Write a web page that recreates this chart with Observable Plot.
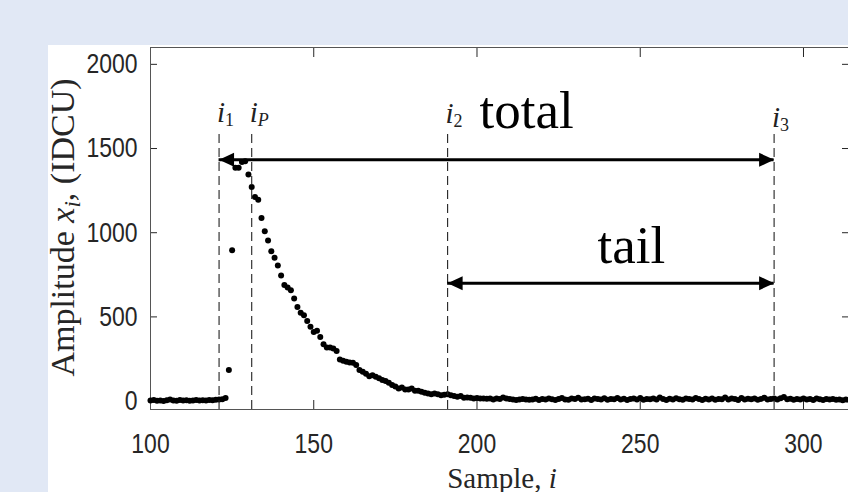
<!DOCTYPE html>
<html><head><meta charset="utf-8">
<script src="https://cdn.jsdelivr.net/npm/d3@7"></script>
<script src="https://cdn.jsdelivr.net/npm/@observablehq/plot@0.6"></script>
<style>
html,body{margin:0;padding:0;width:848px;height:492px;overflow:hidden;background:#e1e8f5;}
#panel{position:absolute;left:48px;top:45px;width:800px;height:447px;background:#fff;overflow:hidden;}
#panel svg{display:block;max-width:none;}
</style></head><body><div id="panel"></div>
<script>
// ---- data ----
const firstSample = 100;
const amplitude = [
  3, 6, 2, 4, 1, 5, 9, 4, 2, 6, 3, 5, 2, 4, 6, 3, 5, 4, 7, 5, 8, 9, 11, 18,
  184, 896, 1386, 1386, 1420, 1425, 1345, 1271, 1212, 1196, 1087, 1008, 953, 890, 852, 805,
  746, 690, 674, 658, 609, 559, 524, 510, 476, 441, 411, 417, 381, 338, 318, 318, 313, 298,
  247, 239, 233, 229, 227, 214, 184, 174, 162, 148,
  154, 144, 135, 125, 120, 109, 95, 86, 75, 81,
  69, 69, 75, 61, 61, 55, 50, 45, 40, 45,
  40, 35, 38, 40, 35, 30, 25, 30, 20, 22,
  20, 15, 18, 15, 15, 14, 15, 10, 15, 12,
  22, 15, 12, 10, 6, 9, 12, 10, 8,
  10, 14, 7, 12, 9, 16, 11, 6, 13, 18,
  10, 8, 15, 12, 20, 9, 11, 14, 7, 16,
  12, 10, 17, 8, 13, 11, 19, 9, 14, 6,
  12, 15, 10, 18, 8, 13, 11, 16, 9, 21,
  12, 7, 14, 10, 17, 11, 8, 15, 13, 9,
  19, 12, 6, 14, 10, 16, 8, 13, 11, 22,
  9, 15, 12, 7, 18, 10, 14, 11, 16, 8,
  13, 20, 9, 12, 15, 10, 17, 24, 11, 14,
  8, 13, 10, 16, 9, 12, 7, 15, 11, 6,
  13, 9, 12, 8, 10, 5, 9, 7
];
const xTicks = [100, 150, 200, 250, 300];
const yTicks = [0, 500, 1000, 1500, 2000];
const xDomain = [100, 314.4];
const yDomain = [-50, 2100];

const markerSub = ["1", "P", "2", "3"];
const markerSample = [121, 131, 191, 291];
const markerLabelLevel = [1655, 1655, 1650, 1625];
const markerTop = 1600;

const spanName = ["total", "tail"];
const spanFrom = [121, 191];
const spanTo = [291, 291];
const spanLevel = [1433, 700];
const spanLabelSample = [200.8, 236.9];
const spanLabelLevel = [1619, 818];

// ---- tables ----
const points = amplitude.map((v, k) => ({i: firstSample + k, v}));
const markers = markerSample.map((s, k) => ({s, sub: markerSub[k], lv: markerLabelLevel[k]}));
const spans = spanName.map((n, k) => ({n, a: spanFrom[k], b: spanTo[k], lv: spanLevel[k], lx: spanLabelSample[k], ly: spanLabelLevel[k]}));
const heads = spans.flatMap(d => [{x: d.a, y: d.lv, dir: 180}, {x: d.b, y: d.lv, dir: 0}]);

const arrowHead = {draw(ctx) { ctx.moveTo(0, 0); ctx.lineTo(-15, -7); ctx.lineTo(-15, 7); ctx.closePath(); }};
const tickFont = "'Liberation Sans', Arial, sans-serif";
const serif = "'Liberation Serif', serif";
const plain = d => String(d);

const plot = Plot.plot({
  width: 804, height: 447,
  marginLeft: 102, marginRight: 2, marginTop: 2, marginBottom: 83,
  x: {domain: xDomain},
  y: {domain: yDomain},
  style: {background: "white", fontFamily: tickFont, overflow: "visible"},
  marks: [
    Plot.axisX(xTicks, {anchor: "bottom", tickSize: -9, tickPadding: 33, tickFormat: plain, fontSize: 28, fontFamily: tickFont, color: "#262626", label: null}),
    Plot.axisX(xTicks, {anchor: "top", tickSize: -9, tickFormat: () => "", color: "#262626", label: null}),
    Plot.axisY(yTicks, {anchor: "left", tickSize: -7, tickPadding: 20, tickFormat: plain, fontSize: 28, fontFamily: tickFont, color: "#262626", label: null}),
    Plot.axisY(yTicks, {anchor: "right", tickSize: -9, tickFormat: () => "", color: "#262626", label: null}),
    Plot.frame({stroke: "#555", strokeWidth: 1}),
    Plot.dot(points, {x: "i", y: "v", r: 3, fill: "black", stroke: null}),
    Plot.ruleX(markers, {x: "s", y1: yDomain[0], y2: markerTop, stroke: "#222", strokeWidth: 1.1, strokeDasharray: "9,5"}),
    Plot.ruleY(spans, {y: "lv", x1: "a", x2: "b", stroke: "black", strokeWidth: 3}),
    Plot.dot(heads, {x: "x", y: "y", rotate: "dir", symbol: arrowHead, fill: "black", stroke: null}),
    Plot.text(markers, {x: "s", y: "lv", text: () => "i", textAnchor: "start", lineAnchor: "bottom", dx: -2, fontSize: 29, fontStyle: "italic", fontFamily: serif, fill: "#222"}),
    Plot.text(markers.filter(d => d.sub !== "P"), {x: "s", y: "lv", text: "sub", textAnchor: "start", lineAnchor: "bottom", dx: 6, dy: 4, fontSize: 18, fontFamily: serif, fill: "#222"}),
    Plot.text(markers.filter(d => d.sub === "P"), {x: "s", y: "lv", text: "sub", textAnchor: "start", lineAnchor: "bottom", dx: 6, dy: 4, fontSize: 18, fontStyle: "italic", fontFamily: serif, fill: "#222"}),
    Plot.text(spans, {x: "lx", y: "ly", text: "n", textAnchor: "start", lineAnchor: "bottom", fontSize: 53, fontFamily: serif, fill: "black"})
  ]
});

const svg = d3.select(plot);
const xl = svg.append("text").attr("x", 454).attr("y", 443).attr("text-anchor", "middle")
  .attr("font-family", serif).attr("font-size", 29).attr("fill", "#262626");
xl.append("tspan").text("Sample, ");
xl.append("tspan").attr("font-style", "italic").text("i");

const yl = svg.append("text").attr("transform", "translate(26,182.5) rotate(-90)").attr("text-anchor", "middle")
  .attr("font-family", serif).attr("font-size", 34).attr("fill", "#262626");
yl.append("tspan").text("Amplitude ");
yl.append("tspan").attr("font-style", "italic").text("x");
yl.append("tspan").attr("font-style", "italic").attr("font-size", 23).attr("dy", 6).text("i");
yl.append("tspan").attr("dy", -6).text(", (IDCU)");

document.getElementById("panel").appendChild(plot);

// condense the tick labels horizontally, like the reference's narrow digits
svg.selectAll('g[aria-label$="tick label"] text').each(function() {
  const len = this.getComputedTextLength();
  if (len > 0) {
    this.setAttribute("textLength", (len * 0.82).toFixed(1));
    this.setAttribute("lengthAdjust", "spacingAndGlyphs");
  }
});
</script></body></html>
